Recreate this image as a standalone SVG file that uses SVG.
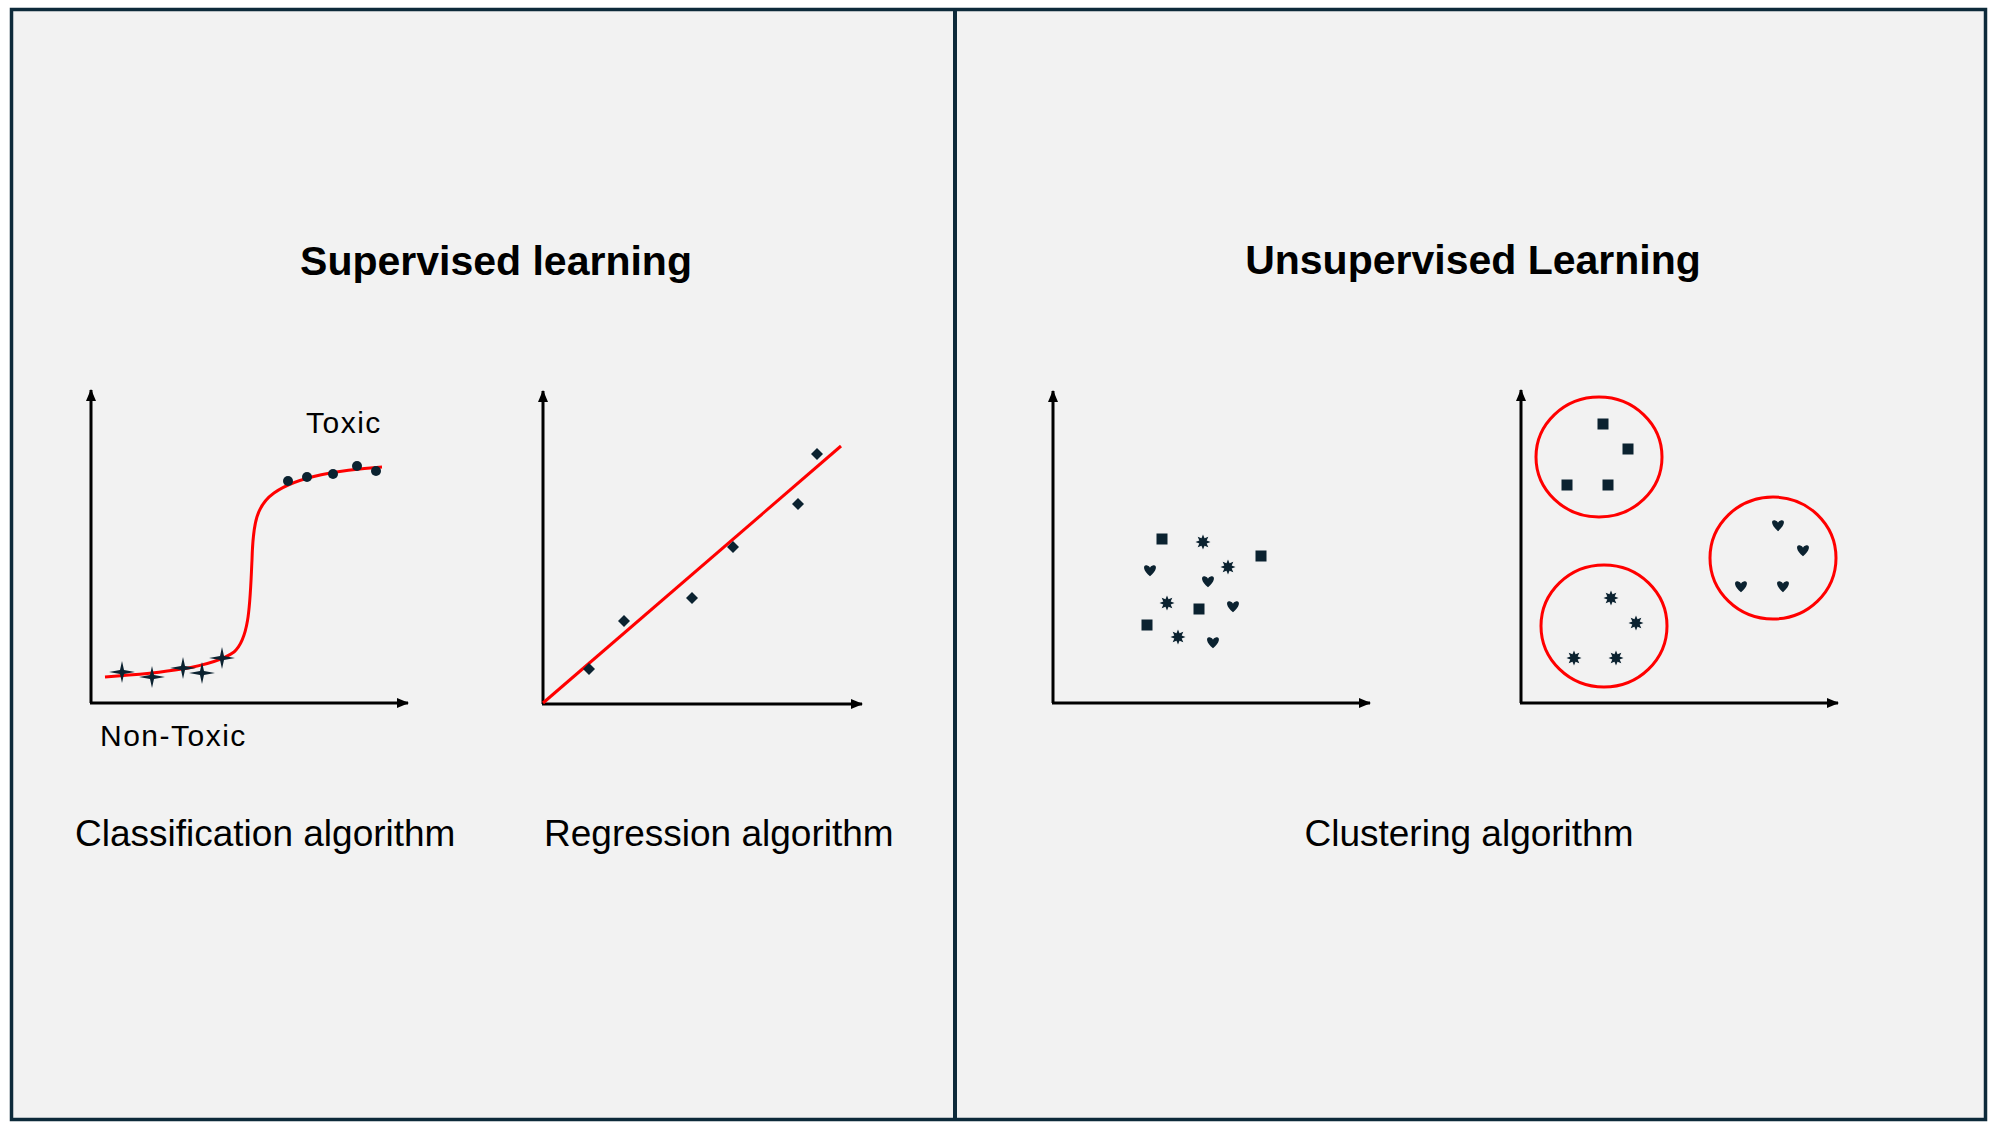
<svg xmlns="http://www.w3.org/2000/svg" xmlns:xlink="http://www.w3.org/1999/xlink" width="1993" height="1128" viewBox="0 0 1993 1128">
<style>
.frame{fill:#f2f2f2;stroke:#0d2a3a;stroke-width:3.5}
.div{stroke:#0d2a3a;stroke-width:4}
.axis{stroke:#000;stroke-width:3;fill:none}
.red{stroke:#ff0000;stroke-width:3;fill:none}
.pt{fill:#0b2230}
.title{font-family:"Liberation Sans",Arial,sans-serif;font-weight:bold;font-size:41px;fill:#000}
.lbl{font-family:"Liberation Sans",Arial,sans-serif;font-size:37px;fill:#000}
.small{font-family:"Liberation Sans",Arial,sans-serif;font-size:30px;letter-spacing:1.5px;fill:#000}
</style>
<defs>
<marker id="arr" viewBox="0 0 12 10" refX="11" refY="5" markerWidth="12" markerHeight="10" markerUnits="userSpaceOnUse" orient="auto">
<path d="M0,0 L12,5 L0,10 Z" fill="#000"/>
</marker>
<path id="star8" d="M7.5,0 L3.7,1.53 L5.3,5.3 L1.53,3.7 L0,7.5 L-1.53,3.7 L-5.3,5.3 L-3.7,1.53 L-7.5,0 L-3.7,-1.53 L-5.3,-5.3 L-1.53,-3.7 L0,-7.5 L1.53,-3.7 L5.3,-5.3 L3.7,-1.53 Z"/>
<path id="heart" d="M0,5.2 C-7,-0.5 -7.4,-6.3 -3.4,-5.8 C-1.4,-5.4 -0.3,-4.2 0,-3.2 C0.3,-4.2 1.4,-5.4 3.4,-5.8 C7.4,-6.3 7,-0.5 0,5.2 Z"/>
<rect id="sq" x="-5.5" y="-5.5" width="11" height="11"/>
<path id="diam" d="M0,-6 L6,0 L0,6 L-6,0 Z"/>
<path id="star4" d="M-13,0 L-2,-2 L0,-11 L2,-2 L13,0 L2,2 L0,11 L-2,2 Z"/>
</defs>

<g id="background">
<rect class="frame" x="11.5" y="9.5" width="1974" height="1110"/>
<line class="div" x1="955" y1="9" x2="955" y2="1120"/>
</g>

<g id="titles">
<text class="title" x="496" y="275" text-anchor="middle">Supervised learning</text>
<text class="title" x="1473" y="274" text-anchor="middle">Unsupervised Learning</text>
</g>

<g id="connectors">
<line class="axis" x1="91" y1="703" x2="91" y2="390" marker-end="url(#arr)"/>
<line class="axis" x1="90" y1="703" x2="408" y2="703" marker-end="url(#arr)"/>
<line class="axis" x1="543" y1="704" x2="543" y2="391" marker-end="url(#arr)"/>
<line class="axis" x1="542" y1="704" x2="862" y2="704" marker-end="url(#arr)"/>
<line class="axis" x1="1053" y1="703" x2="1053" y2="391" marker-end="url(#arr)"/>
<line class="axis" x1="1052" y1="703" x2="1370" y2="703" marker-end="url(#arr)"/>
<line class="axis" x1="1521" y1="703" x2="1521" y2="390" marker-end="url(#arr)"/>
<line class="axis" x1="1520" y1="703" x2="1838" y2="703" marker-end="url(#arr)"/>
</g>

<g id="classification">
<path class="red" d="M105,677 C160,673 212,668 234,652 C250,638 250,600 252,560 C253,522 257,505 274,493 C298,476 340,470 382,467"/>
<g class="pt">
<use xlink:href="#star4" x="122" y="672"/>
<use xlink:href="#star4" x="152" y="677"/>
<use xlink:href="#star4" x="183" y="668"/>
<use xlink:href="#star4" x="202" y="673"/>
<use xlink:href="#star4" x="222" y="658"/>
<circle cx="288" cy="481" r="5"/>
<circle cx="307" cy="477" r="5"/>
<circle cx="333" cy="474" r="5"/>
<circle cx="357" cy="466" r="5"/>
<circle cx="376" cy="471" r="5"/>
</g>
<text class="small" x="306" y="433">Toxic</text>
<text class="small" x="100" y="746">Non-Toxic</text>
<text class="lbl" x="75" y="846">Classification algorithm</text>
</g>

<g id="regression">
<line class="red" x1="543" y1="703" x2="841" y2="446"/>
<g class="pt">
<use xlink:href="#diam" x="589" y="669"/>
<use xlink:href="#diam" x="624" y="621"/>
<use xlink:href="#diam" x="692" y="598"/>
<use xlink:href="#diam" x="733" y="547"/>
<use xlink:href="#diam" x="798" y="504"/>
<use xlink:href="#diam" x="817" y="454"/>
</g>
<text class="lbl" x="544" y="846">Regression algorithm</text>
</g>

<g id="unclustered">
<g class="pt">
<use xlink:href="#sq" x="1162" y="539"/>
<use xlink:href="#sq" x="1261" y="556"/>
<use xlink:href="#sq" x="1199" y="609"/>
<use xlink:href="#sq" x="1147" y="625"/>
<use xlink:href="#star8" x="1203" y="542"/>
<use xlink:href="#star8" x="1228" y="567"/>
<use xlink:href="#star8" x="1167" y="603"/>
<use xlink:href="#star8" x="1178" y="637"/>
<use xlink:href="#heart" x="1150" y="571"/>
<use xlink:href="#heart" x="1208" y="582"/>
<use xlink:href="#heart" x="1233" y="607"/>
<use xlink:href="#heart" x="1213" y="643"/>
</g>
</g>

<g id="clustered">
<ellipse class="red" cx="1599" cy="457" rx="63" ry="60"/>
<ellipse class="red" cx="1773" cy="558" rx="63" ry="61"/>
<ellipse class="red" cx="1604" cy="626" rx="63" ry="61"/>
<g class="pt">
<use xlink:href="#sq" x="1603" y="424"/>
<use xlink:href="#sq" x="1628" y="449"/>
<use xlink:href="#sq" x="1567" y="485"/>
<use xlink:href="#sq" x="1608" y="485"/>
<use xlink:href="#heart" x="1778" y="526"/>
<use xlink:href="#heart" x="1803" y="551"/>
<use xlink:href="#heart" x="1741" y="587"/>
<use xlink:href="#heart" x="1783" y="587"/>
<use xlink:href="#star8" x="1611" y="598"/>
<use xlink:href="#star8" x="1636" y="623"/>
<use xlink:href="#star8" x="1574" y="658"/>
<use xlink:href="#star8" x="1616" y="658"/>
</g>
</g>

<g id="clustering-label">
<text class="lbl" x="1469" y="846" text-anchor="middle">Clustering algorithm</text>
</g>
</svg>
